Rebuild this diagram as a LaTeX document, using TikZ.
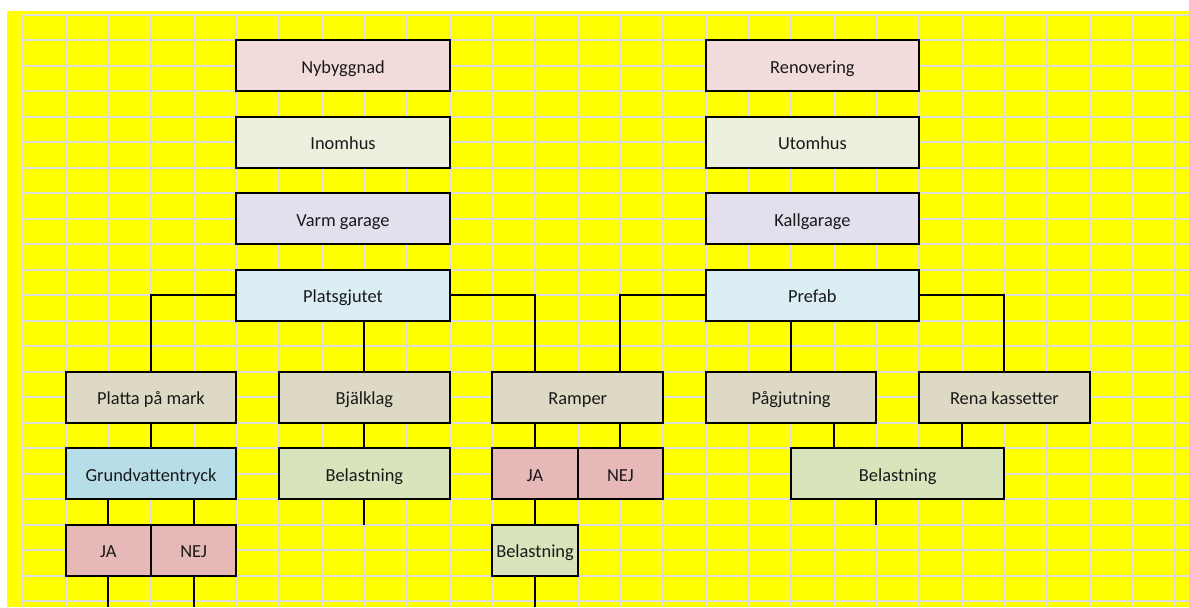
\documentclass[tikz,border=0pt]{standalone}
\definecolor{SheetYellow}{RGB}{255,255,0}
\definecolor{GridGray}{RGB}{221,221,221}
\definecolor{RoseFill}{RGB}{242,220,219}
\definecolor{OliveFill}{RGB}{235,241,222}
\definecolor{LilacFill}{RGB}{228,223,236}
\definecolor{IceFill}{RGB}{218,238,243}
\definecolor{SandFill}{RGB}{221,217,196}
\definecolor{AquaFill}{RGB}{183,222,232}
\definecolor{BlushFill}{RGB}{230,184,183}
\definecolor{SageFill}{RGB}{216,228,188}
\usepackage{fontspec}
\setmainfont{Carlito}
\usepackage{tikz}
\usetikzlibrary{positioning}
\tikzset{
  gridline/.style={draw=GridGray,line width=1.5pt},
  cell/.style={draw=black,line width=1.5pt,inner sep=0pt,outer sep=0pt,
               minimum height=38.22pt,text height=11pt,text depth=0pt,
               text=black!90,font=\fontsize{13.8}{16}\selectfont},
  wide/.style={cell,minimum width=160pt},
  mid/.style={cell,minimum width=128pt},
  narrow/.style={cell,minimum width=64pt},
  link/.style={draw=black,line width=1.5pt}
}

\begin{document}
\begin{tikzpicture}[x=32pt,y=-19.11pt]
    % sheet and grid
    \fill[white] (-0.539,-0.589) rectangle (27.326,23.234);
    \useasboundingbox (-0.539,-0.589) rectangle (27.326,23.234);
    \fill[SheetYellow] (-0.375,-0.157) rectangle (27.326,23.234);
    \foreach \i in {0,...,27}
      \draw[gridline] (\i,0) -- (\i,23.234);
    \foreach \j in {0,...,23}
      \draw[gridline] (0,\j) -- (27.326,\j);
    \coordinate (sheetbottom) at (0,23.234);

    % top rows
    \node[wide,fill=RoseFill] (nyb) at (7.5,2) {Nybyggnad};
    \node[wide,fill=RoseFill] (reno) at (18.5,2) {Renovering};
    \node[wide,fill=OliveFill] (inom) at (7.5,5) {Inomhus};
    \node[wide,fill=OliveFill] (utom) at (18.5,5) {Utomhus};
    \node[wide,fill=LilacFill] (varm) at (7.5,8) {Varm garage};
    \node[wide,fill=LilacFill] (kall) at (18.5,8) {Kallgarage};
    \node[wide,fill=IceFill] (plats) at (7.5,11) {Platsgjutet};
    \node[wide,fill=IceFill] (prefab) at (18.5,11) {Prefab};

    % second level
    \node[mid,fill=SandFill] (platta) at (3,15) {Platta på mark};
    \node[mid,fill=SandFill] (bjalk) at (8,15) {Bjälklag};
    \node[mid,fill=SandFill] (ramper) at (13,15) {Ramper};
    \node[mid,fill=SandFill] (pag) at (18,15) {Pågjutning};
    \node[mid,fill=SandFill] (rena) at (23,15) {Rena kassetter};

    % third level
    \node[mid,fill=AquaFill] (grundv) at (3,18) {Grundvattentryck};
    \node[mid,fill=SageFill] (bjbel) at (8,18) {Belastning};
    \node[narrow,fill=BlushFill] (rja) at (12,18) {JA};
    \node[narrow,fill=BlushFill] (rnej) at (14,18) {NEJ};
    \node[wide,fill=SageFill] (pgbel) at (20.5,18) {Belastning};

    % fourth level
    \node[narrow,fill=BlushFill] (gja) at (2,21) {JA};
    \node[narrow,fill=BlushFill] (gnej) at (4,21) {NEJ};
    \node[narrow,fill=SageFill] (rbel) at (12,21) {Belastning};

    % connectors
    \draw[link] (plats.west) -| (platta.north);
    \draw[link] (bjalk.north) -- (bjalk.north |- plats.south);
    \draw[link] (plats.east) -| (ramper.north -| rja);
    \draw[link] (prefab.west) -| (ramper.north -| rnej);
    \draw[link] (pag.north) -- (pag.north |- prefab.south);
    \draw[link] (prefab.east) -| (rena.north);
    \draw[link] (platta.south) -- (grundv.north);
    \draw[link] (gja.north) -- (gja.north |- grundv.south);
    \draw[link] (gnej.north) -- (gnej.north |- grundv.south);
    \draw[link] (gja.south) -- (gja.south |- sheetbottom);
    \draw[link] (gnej.south) -- (gnej.south |- sheetbottom);
    \draw[link] (bjalk.south) -- (bjbel.north);
    \draw[link] (bjbel.south) -- ++(0,1);
    \draw[link] (rja.north) -- (rja.north |- ramper.south);
    \draw[link] (rnej.north) -- (rnej.north |- ramper.south);
    \draw[link] (rja.south) -- (rbel.north);
    \draw[link] (rbel.south) -- (rbel.south |- sheetbottom);
    \draw[link] ([xshift=32pt]pag.south) -- ([xshift=32pt]pag.south |- pgbel.north);
    \draw[link] ([xshift=-32pt]rena.south) -- ([xshift=-32pt]rena.south |- pgbel.north);
    \draw[link] ([xshift=-16pt]pgbel.south) -- ++(0,1);
  \end{tikzpicture}
\end{document}
